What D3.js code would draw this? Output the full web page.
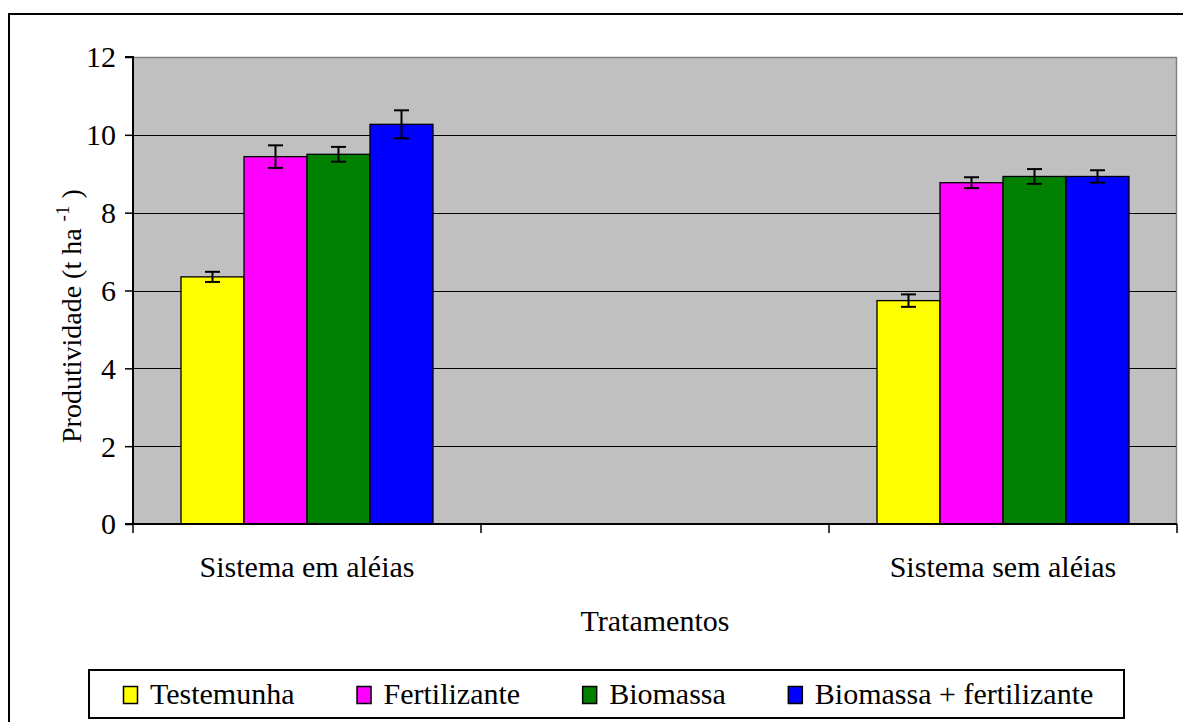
<!DOCTYPE html>
<html>
<head>
<meta charset="utf-8">
<script src="https://cdn.jsdelivr.net/npm/d3@7"></script>
<style>
  html, body { margin: 0; padding: 0; background: #fff; }
  svg { display: block; }
</style>
</head>
<body>
<svg id="chart" width="1183" height="722"></svg>
<script>
// ---- data ----
const categories = ["Sistema em aléias", "", "Sistema sem aléias"];
const series = ["Testemunha", "Fertilizante", "Biomassa", "Biomassa + fertilizante"];
const colors = ["#FFFF00", "#FF00FF", "#008000", "#0000FF"];
// values per series, per category (middle category empty)
const testemunha   = [6.35, null, 5.74];
const fertilizante = [9.44, null, 8.77];
const biomassa     = [9.50, null, 8.93];
const biomassaFert = [10.27, null, 8.93];
// error (± half-length)
const errTestemunha   = [0.13, null, 0.16];
const errFertilizante = [0.29, null, 0.14];
const errBiomassa     = [0.19, null, 0.19];
const errBiomassaFert = [0.36, null, 0.16];
const yTicks = [0, 2, 4, 6, 8, 10, 12];

const values = [testemunha, fertilizante, biomassa, biomassaFert];
const errors = [errTestemunha, errFertilizante, errBiomassa, errBiomassaFert];

// ---- layout ----
const FF = "'Liberation Serif', 'Times New Roman', Times, serif";
const FONT = 30;
const svg = d3.select("#chart");
const plot = { left: 133, right: 1177, top: 57, bottom: 524 };

function txt(sel, size) {
  return sel.style("font-family", FF).style("font-size", (size || FONT) + "px").attr("fill", "#000");
}

// outer frame
svg.append("path")
  .attr("d", "M9,730 L9,14 L1190,14")
  .attr("fill", "none").attr("stroke", "#000").attr("stroke-width", 2);

const x0 = d3.scaleBand().domain(categories.map((c, i) => i))
  .range([plot.left, plot.right]).paddingInner(0).paddingOuter(0);
const x1 = d3.scaleBand().domain(series)
  .range([0, x0.bandwidth()]).paddingInner(0).paddingOuter(0.762);
const y = d3.scaleLinear().domain([0, 12]).range([plot.bottom, plot.top]);

// plot background
svg.append("rect")
  .attr("x", plot.left).attr("y", plot.top)
  .attr("width", plot.right - plot.left).attr("height", plot.bottom - plot.top)
  .attr("fill", "#C0C0C0");
// top/right border (gray)
svg.append("path")
  .attr("d", `M${plot.left},${plot.top + 0.5} L${plot.right - 0.5},${plot.top + 0.5} L${plot.right - 0.5},${plot.bottom}`)
  .attr("fill", "none").attr("stroke", "#808080").attr("stroke-width", 1.5);

// gridlines
svg.append("g").selectAll("line")
  .data(yTicks.filter(t => t > 0 && t < 12))
  .join("line")
  .attr("x1", plot.left).attr("x2", plot.right - 1)
  .attr("y1", d => Math.round(y(d)) + 0.5).attr("y2", d => Math.round(y(d)) + 0.5)
  .attr("stroke", "#000").attr("stroke-width", 1.2);

// bars
const groups = svg.append("g").selectAll("g")
  .data(categories.map((c, i) => i))
  .join("g")
  .attr("transform", i => `translate(${x0(i)},0)`);

const rowsFor = i => series.map((s, k) => ({ s, k, v: values[k][i], e: errors[k][i] })).filter(d => d.v != null);

groups.selectAll("rect")
  .data(rowsFor)
  .join("rect")
  .attr("x", d => x1(d.s))
  .attr("width", x1.bandwidth())
  .attr("y", d => y(d.v))
  .attr("height", d => y(0) - y(d.v))
  .attr("fill", d => colors[d.k])
  .attr("stroke", "#000").attr("stroke-width", 1.3);

// error bars
const capW = 15;
const cx = d => x1(d.s) + x1.bandwidth() / 2;
const eb = groups.selectAll("g.err")
  .data(rowsFor)
  .join("g").attr("class", "err")
  .attr("stroke", "#000").attr("stroke-width", 2);
eb.append("line")
  .attr("x1", cx).attr("x2", cx)
  .attr("y1", d => y(d.v + d.e)).attr("y2", d => y(d.v - d.e));
eb.append("line")
  .attr("x1", d => cx(d) - capW / 2).attr("x2", d => cx(d) + capW / 2)
  .attr("y1", d => y(d.v + d.e)).attr("y2", d => y(d.v + d.e));
eb.append("line")
  .attr("x1", d => cx(d) - capW / 2).attr("x2", d => cx(d) + capW / 2)
  .attr("y1", d => y(d.v - d.e)).attr("y2", d => y(d.v - d.e));

// y axis
const yAxis = d3.axisLeft(y).tickValues(yTicks).tickSize(8).tickPadding(9).tickFormat(d3.format("d"));
const gy = svg.append("g").attr("transform", `translate(${plot.left},0)`).call(yAxis);
gy.attr("font-family", null).attr("font-size", null);
gy.select(".domain").attr("stroke", "#000").attr("stroke-width", 2).attr("d", `M-8,${plot.bottom}H0V${plot.top}H-8`);
gy.selectAll(".tick line").attr("stroke", "#000").attr("stroke-width", 1.5);
txt(gy.selectAll(".tick text")).attr("dy", "0.33em");

// x axis
const xTickPos = d3.range(categories.length + 1).map(i => plot.left + i * x0.step());
svg.append("line")
  .attr("x1", plot.left - 8).attr("x2", plot.right)
  .attr("y1", plot.bottom).attr("y2", plot.bottom)
  .attr("stroke", "#000").attr("stroke-width", 2);
svg.append("g").selectAll("line").data(xTickPos).join("line")
  .attr("x1", d => d).attr("x2", d => d)
  .attr("y1", plot.bottom).attr("y2", plot.bottom + 9)
  .attr("stroke", "#000").attr("stroke-width", 1.5);
txt(svg.append("g").selectAll("text").data(categories.map((c, i) => i)).join("text")
  .attr("x", i => x0(i) + x0.bandwidth() / 2)
  .attr("y", 577)
  .attr("text-anchor", "middle"))
  .text(i => categories[i]);

// axis titles
txt(svg.append("text")
  .attr("x", (plot.left + plot.right) / 2).attr("y", 631)
  .attr("text-anchor", "middle"))
  .text("Tratamentos");

const yt = txt(svg.append("text")
  .attr("transform", `translate(81,443) rotate(-90)`)
  .attr("text-anchor", "start"), 28);
yt.append("tspan").text("Produtividade (t ha ");
yt.append("tspan").style("font-size", "19px").attr("dy", -12).text("-1");
yt.append("tspan").attr("dy", 12).text(" )");

// legend
const legend = svg.append("g");
legend.append("rect")
  .attr("x", 89).attr("y", 670).attr("width", 1035).attr("height", 48)
  .attr("fill", "#fff").attr("stroke", "#000").attr("stroke-width", 2);
let lx = 123;
series.forEach((s, i) => {
  const g = legend.append("g").attr("transform", `translate(${lx},0)`);
  g.append("rect")
    .attr("x", 0.5).attr("y", 686.5).attr("width", 14).attr("height", 17)
    .attr("fill", colors[i]).attr("stroke", "#000").attr("stroke-width", 1.5);
  const t = txt(g.append("text").attr("x", 27).attr("y", 704)).text(s);
  lx += 27 + t.node().getComputedTextLength() + 62;
});
</script>
</body>
</html>
